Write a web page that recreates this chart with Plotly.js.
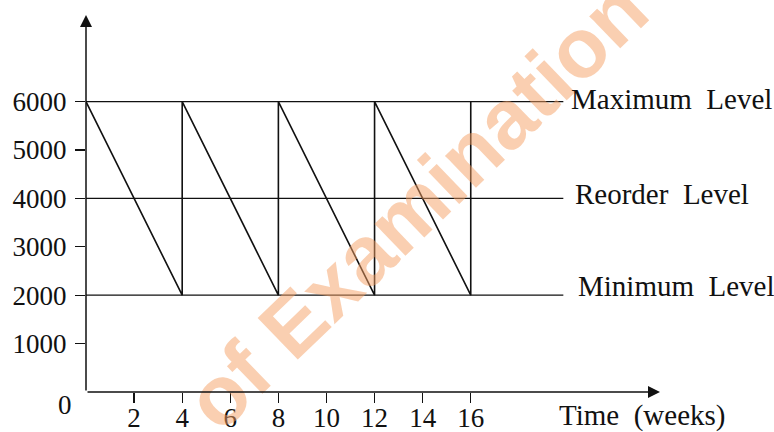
<!DOCTYPE html>
<html>
<head>
<meta charset="utf-8">
<script src="https://cdn.plot.ly/plotly-3.0.1.min.js"></script>
<style>html,body{margin:0;padding:0;background:#fff;}#chart{width:774px;height:432px;}</style>
</head>
<body>
<div id="chart"></div>
<script>
// Sawtooth stock level (units) vs time (weeks)
const weeks = [0, 4, 4, 8, 8, 12, 12, 16, 16];
const stock = [6000, 2000, 6000, 2000, 6000, 2000, 6000, 2000, 6000];
// Reference levels
const levelNames = ["Maximum Level", "Reorder Level", "Minimum Level"];
const levelValues = [6000, 4000, 2000];
const levelEnd = 19.85;
// Ticks
const xTicks = [2, 4, 6, 8, 10, 12, 14, 16];
const yTicks = [1000, 2000, 3000, 4000, 5000, 6000];
const xMax = 23.87, yMax = 7789;

const serif = "Liberation Serif, Times New Roman, serif";
const traces = [];
levelValues.forEach((v, i) => {
  traces.push({x: [0, levelEnd], y: [v, v], mode: "lines", name: levelNames[i],
    line: {color: "#111", width: 1.2}, hoverinfo: "skip", showlegend: false});
});
traces.push({x: weeks, y: stock, mode: "lines", name: "Stock",
  line: {color: "#111", width: 1.6}, showlegend: false});

const labelShift = [3, 4, 9];
const labelX = [20.1, 20.25, 20.38];
const annotations = [];
// watermark (drawn first)
annotations.push({x: 0.575, y: 0.497, xref: "paper", yref: "paper", text: "<b>of Examination</b>",
  showarrow: false, textangle: -44, xanchor: "center", yanchor: "middle",
  font: {family: "Liberation Sans, Arial, sans-serif", size: 84, color: "rgba(245,160,100,0.5)"}});
levelNames.forEach((n, i) => {
  annotations.push({x: labelX[i], y: levelValues[i], xref: "x", yref: "y",
    text: n.replace(" ", " \u00A0"), showarrow: false, xanchor: "left", yanchor: "middle",
    yshift: labelShift[i], font: {family: serif, size: 29, color: "#111"}});
});
annotations.push({x: 19.6, y: 0, xref: "x", yref: "y", text: "Time \u00A0(weeks)",
  showarrow: false, xanchor: "left", yanchor: "middle", yshift: -23,
  font: {family: serif, size: 29, color: "#111"}});
annotations.push({x: 0, y: 0, xref: "x", yref: "y", text: "0", showarrow: false,
  xanchor: "center", yanchor: "middle", xshift: -21, yshift: -13,
  font: {family: serif, size: 27, color: "#111"}});
// axis arrows
annotations.push({x: 0, y: yMax, ax: 0, ay: 0, xref: "x", yref: "y", axref: "x", ayref: "y",
  showarrow: true, arrowhead: 2, arrowsize: 1.6, arrowwidth: 1.5, arrowcolor: "#111", text: ""});
annotations.push({x: xMax, y: 0, ax: 0, ay: 0, xref: "x", yref: "y", axref: "x", ayref: "y",
  showarrow: true, arrowhead: 2, arrowsize: 1.6, arrowwidth: 1.5, arrowcolor: "#111", text: ""});

const layout = {
  width: 774, height: 432,
  margin: {l: 86, r: 114, t: 15, b: 40, pad: 0},
  paper_bgcolor: "#fff", plot_bgcolor: "#fff",
  showlegend: false,
  xaxis: {range: [0, xMax], tickvals: xTicks, ticktext: xTicks.map(String),
    ticks: "outside", ticklen: 10, tickwidth: 1.3, tickcolor: "#111",
    showgrid: false, zeroline: false, showline: false, ticklabelstandoff: -8,
    tickfont: {family: serif, size: 27, color: "#111"}, fixedrange: true},
  yaxis: {range: [0, yMax], tickvals: yTicks, ticktext: yTicks.map(String),
    ticks: "outside", ticklen: 10, tickwidth: 1.3, tickcolor: "#111",
    showgrid: false, zeroline: false, showline: false, ticklabelstandoff: 3,
    tickfont: {family: serif, size: 27, color: "#111"}, fixedrange: true},
  annotations: annotations
};
Plotly.newPlot("chart", traces, layout, {displayModeBar: false, staticPlot: true});
</script>
</body>
</html>
